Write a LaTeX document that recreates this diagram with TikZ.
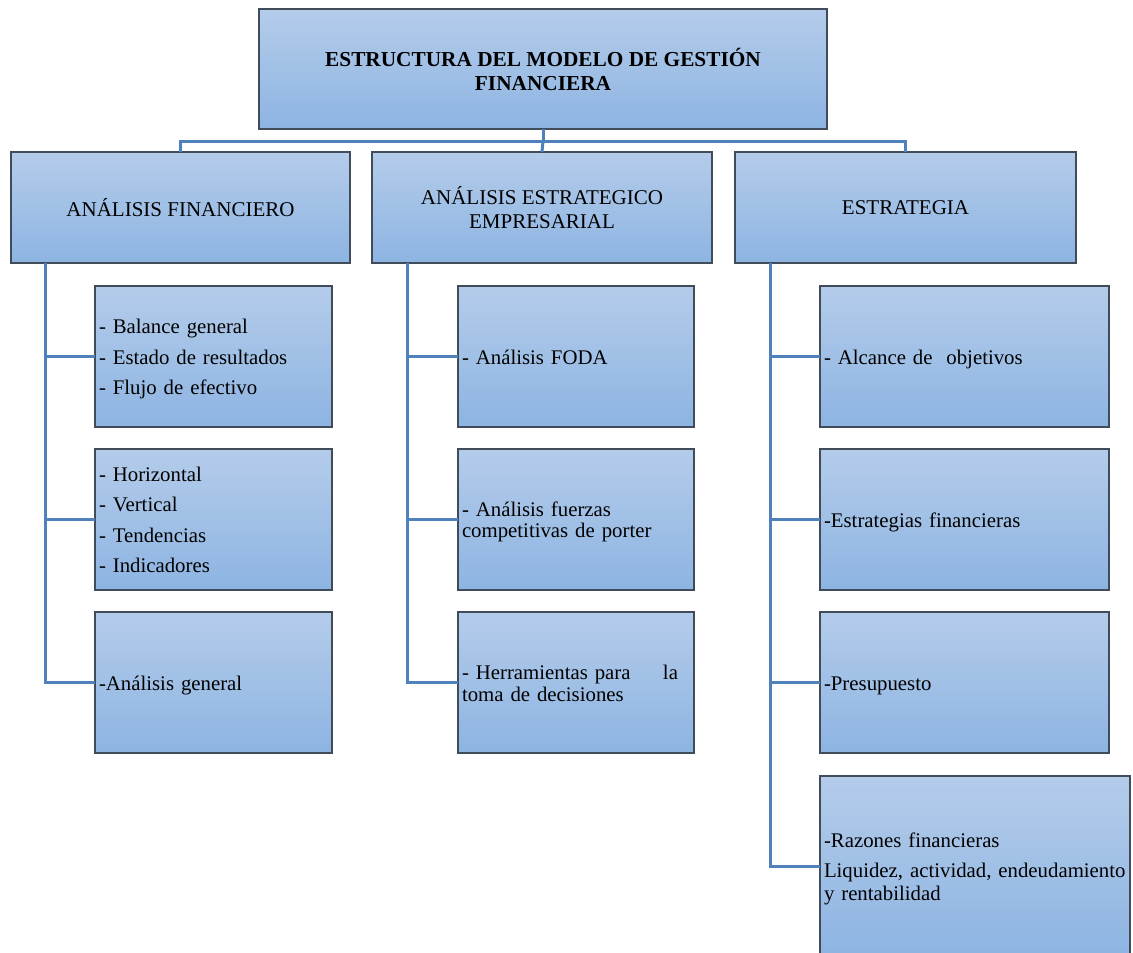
\documentclass[tikz,border=0pt]{standalone}
\usepackage{fontspec}
\setmainfont{Liberation Serif}
\usetikzlibrary{shadings}
\definecolor{boxtop}{RGB}{180,204,234}
\definecolor{boxbot}{RGB}{141,180,226}
\definecolor{edgecol}{RGB}{64,76,90}
\definecolor{conncol}{RGB}{79,129,189}
\newcommand\strtop{\rule{0pt}{20pt}}
\newcommand\strbot{\rule[-4.6pt]{0pt}{4.6pt}}
\begin{document}
\begin{tikzpicture}[x=1pt,y=-1pt,
  box/.style={draw=edgecol, line width=1.3pt, top color=boxtop, bottom color=boxbot,
    anchor=north west, inner sep=0pt, outer sep=0pt},
  hdr/.style={box, minimum height=111pt, align=center, font=\fontsize{21}{24}\selectfont},
  item/.style={box, align=left, inner xsep=4pt, font=\fontsize{20.8}{30.5}\selectfont},
  conn/.style={draw=conncol, line width=3pt}]
\useasboundingbox (0,0) rectangle (1133,953);
\clip (0,0) rectangle (1133,953);

% title
\node[box, minimum width=568pt, minimum height=120pt, align=center,
  font=\fontsize{21.3}{24}\selectfont\bfseries] (top) at (259,9)
  {ESTRUCTURA DEL MODELO DE GESTIÓN\\FINANCIERA};

% headers
\node[hdr, minimum width=339pt] (h1) at (11,152) {ANÁLISIS FINANCIERO};
\node[hdr, minimum width=340pt] (h2) at (372,152) {ANÁLISIS ESTRATEGICO\\EMPRESARIAL};
\node[hdr, minimum width=341pt] (h3) at (735,152) {ESTRATEGIA};

% left column
\node[item, text width=229pt, minimum height=141pt] (a1) at (95,286)
  {\strtop- Balance general\\- Estado de resultados\\- Flujo de efectivo\strbot};
\node[item, text width=229pt, minimum height=141pt] (a2) at (95,449)
  {\strtop- Horizontal\\- Vertical\\- Tendencias\\- Indicadores\strbot};
\node[item, text width=229pt, minimum height=141pt] (a3) at (95,612)
  {\strtop-Análisis general\strbot};

% middle column
\node[item, text width=228pt, minimum height=141pt] (b1) at (458,286)
  {\strtop- Análisis FODA\strbot};
\node[item, text width=228pt, minimum height=141pt, font=\fontsize{20.8}{21.5}\selectfont] (b2) at (458,449)
  {\strtop- Análisis fuerzas\\competitivas de porter\strbot};
\node[item, text width=228pt, minimum height=141pt, font=\fontsize{20.8}{22}\selectfont] (b3) at (458,612)
  {\strtop\makebox[216pt][l]{- Herramientas para\hfill la}\\toma de decisiones\strbot};

% right column
\node[item, text width=281pt, minimum height=141pt] (c1) at (820,286)
  {\strtop- Alcance de\ \ objetivos\strbot};
\node[item, text width=281pt, minimum height=141pt] (c2) at (820,449)
  {\strtop-Estrategias financieras\strbot};
\node[item, text width=281pt, minimum height=141pt] (c3) at (820,612)
  {\strtop-Presupuesto\strbot};
\node[item, text width=302pt, minimum height=180pt, font=\fontsize{20.8}{23}\selectfont] (c4) at (820,776)
  {\strtop-Razones financieras\\[7pt]Liquidez, actividad, endeudamiento\\y rentabilidad\strbot};

% top connectors
\path (top.south) ++(0,12) coordinate (bus);
\draw[conn] (top.south) -- (bus);
\draw[conn] (h1.north) |- (bus) -| (h3.north);
\draw[conn] (bus) -- (h2.north);

% left column connectors
\path (h1.south west) ++(34,0) coordinate (s1);
\draw[conn] (s1) |- (a3.west);
\draw[conn] (s1 |- a1.west) -- (a1.west);
\draw[conn] (s1 |- a2.west) -- (a2.west);

% middle column connectors
\path (h2.south west) ++(35,0) coordinate (s2);
\draw[conn] (s2) |- (b3.west);
\draw[conn] (s2 |- b1.west) -- (b1.west);
\draw[conn] (s2 |- b2.west) -- (b2.west);

% right column connectors
\path (h3.south west) ++(35,0) coordinate (s3);
\draw[conn] (s3) |- (c4.west);
\draw[conn] (s3 |- c1.west) -- (c1.west);
\draw[conn] (s3 |- c2.west) -- (c2.west);
\draw[conn] (s3 |- c3.west) -- (c3.west);
\end{tikzpicture}
\end{document}
